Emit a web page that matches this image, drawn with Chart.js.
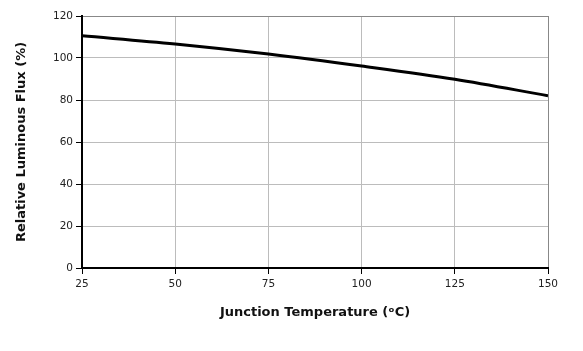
<!DOCTYPE html>
<html>
<head>
<meta charset="utf-8">
<script src="https://cdn.jsdelivr.net/npm/chart.js@4"></script>
<style>
html,body{margin:0;padding:0;background:#fff;}
#wrap{width:583px;height:351px;}
</style>
</head>
<body>
<div id="wrap"><canvas id="c" width="583" height="351"></canvas></div>
<script>
const temperatures = [25, 50, 75, 100, 125, 150];
const fluxValues = [110.6, 106.7, 101.9, 96.2, 89.9, 82.0];
const xTicks = [25, 50, 75, 100, 125, 150];
const yTicks = [0, 20, 40, 60, 80, 100, 120];
const xTitle = 'Junction Temperature (ᵒC)';
const yTitle = 'Relative Luminous Flux (%)';

const points = temperatures.map((t, i) => ({x: t, y: fluxValues[i]}));
const FONT = 'Verdana, "DejaVu Sans", sans-serif';

new Chart(document.getElementById('c'), {
  type: 'line',
  data: {
    datasets: [{
      data: points,
      borderColor: '#000',
      borderWidth: 3,
      pointRadius: 0,
      fill: false,
      cubicInterpolationMode: 'monotone'
    }]
  },
  options: {
    responsive: false,
    animation: false,
    devicePixelRatio: 1,
    layout: {padding: {left: 0, right: 35, top: 16, bottom: 0}},
    plugins: {legend: {display: false}, tooltip: {enabled: false}},
    scales: {
      x: {
        type: 'linear',
        min: 25, max: 150,
        afterBuildTicks: s => { s.ticks = xTicks.map(v => ({value: v})); },
        afterFit: s => { s.height = 83; },
        grid: {color: (c) => c.index === xTicks.length - 1 ? '#888' : '#bcbcbc', lineWidth: 1, tickColor: '#000', tickLength: 6},
        border: {color: '#000', width: 2},
        ticks: {color: '#222', font: {family: FONT, size: 10.5}, padding: 4, maxRotation: 0},
        title: {display: true, text: xTitle, color: '#111', font: {family: FONT, size: 13, weight: 'bold'}, padding: {top: 0, bottom: 31}}
      },
      y: {
        type: 'linear',
        min: 0, max: 120,
        afterBuildTicks: s => { s.ticks = yTicks.map(v => ({value: v})); },
        afterFit: s => { s.width = 82; },
        grid: {color: (c) => c.index === yTicks.length - 1 ? '#888' : '#bcbcbc', lineWidth: 1, tickColor: '#000', tickLength: 6},
        border: {color: '#000', width: 2},
        ticks: {color: '#222', font: {family: FONT, size: 10.5}, padding: 3},
        title: {display: true, text: yTitle, color: '#111', font: {family: FONT, size: 13, weight: 'bold'}, padding: {top: 14, bottom: 0}}
      }
    }
  }
});
</script>
</body>
</html>
